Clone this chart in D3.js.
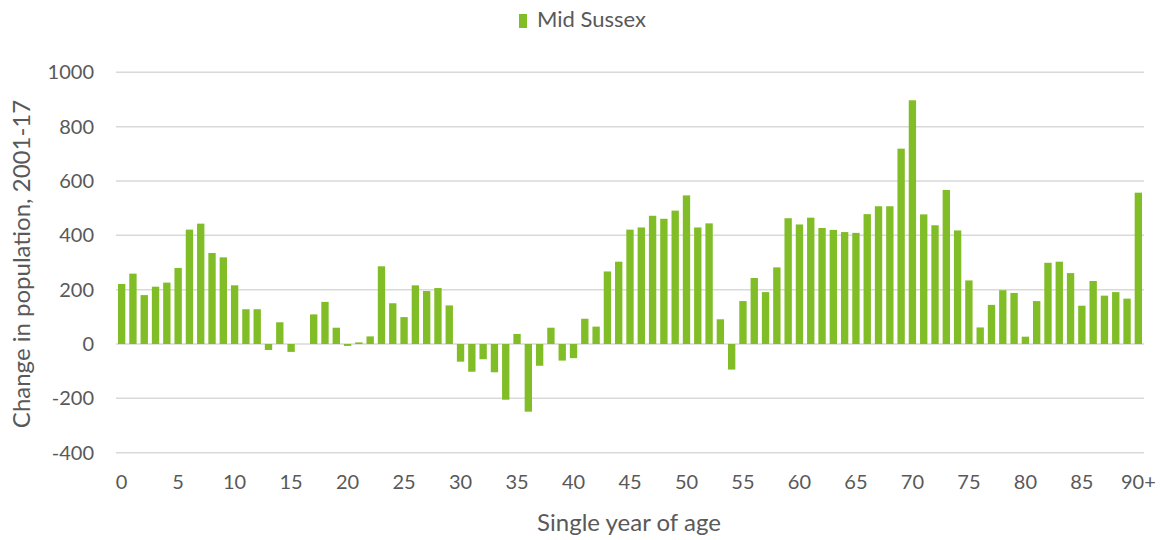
<!DOCTYPE html>
<html>
<head>
<meta charset="utf-8">
<script src="https://cdn.jsdelivr.net/npm/d3@7"></script>
<style>
  html, body { margin: 0; padding: 0; background: #fff; }
  svg { display: block; }
  text { font-family: Lato, "Open Sans", sans-serif; fill: #595959; }
</style>
</head>
<body>
<svg id="chart" width="1162" height="540"></svg>
<script>
const ages = d3.range(0, 91).map(a => a === 90 ? "90+" : String(a));
const values = [
  221, 259, 180, 211, 226, 280, 421, 443, 335, 319,
  216, 128, 128, -22, 80, -29, 0, 109, 155, 60,
  -7, 6, 28, 286, 150, 99, 216, 195, 206, 142,
  -65, -102, -56, -104, -205, 37, -249, -80, 60, -61,
  -52, 93, 64, 267, 303, 421, 429, 472, 461, 491,
  547, 429, 444, 91, -94, 158, 243, 191, 282, 463,
  440, 465, 427, 420, 412, 409, 478, 507, 507, 719,
  897, 477, 437, 567, 418, 234, 61, 144, 198, 188,
  27, 158, 299, 303, 261, 141, 232, 178, 191, 167,
  557
];
const yTicks = [-400, -200, 0, 200, 400, 600, 800, 1000];
const xTickLabels = ["0","5","10","15","20","25","30","35","40","45","50","55","60","65","70","75","80","85","90+"];
const seriesName = "Mid Sussex";
const barColor = "#80bd26";

const svg = d3.select("#chart");
const plotLeft = 116, plotRight = 1144, plotTop = 72.3, plotBottom = 452.7;

const x = d3.scaleBand().domain(ages).range([plotLeft, plotRight]).paddingInner(0.35).paddingOuter(0.175);
const y = d3.scaleLinear().domain([-400, 1000]).range([plotBottom, plotTop]);

// gridlines
svg.append("g").selectAll("line").data(yTicks).join("line")
  .attr("x1", plotLeft).attr("x2", plotRight)
  .attr("y1", d => y(d)).attr("y2", d => y(d))
  .attr("stroke", "#d9d9d9").attr("stroke-width", 1.5);

// y axis labels
const yAxis = d3.axisLeft(y).tickValues(yTicks).tickSize(0).tickPadding(0).tickFormat(d => String(d));
const gy = svg.append("g").attr("transform", `translate(${plotLeft - 22},0)`).call(yAxis);
gy.select(".domain").remove();
gy.selectAll("text").style("font-size", "20px").attr("fill", "#595959").style("font-family", "Lato, 'Open Sans', sans-serif");

// bars
svg.append("g").selectAll("rect").data(values).join("rect")
  .attr("x", (d, i) => x(ages[i]))
  .attr("width", x.bandwidth())
  .attr("y", d => y(Math.max(0, d)))
  .attr("height", d => Math.abs(y(d) - y(0)))
  .attr("fill", barColor);

// x axis labels
const xAxis = d3.axisBottom(x).tickValues(xTickLabels).tickSize(0).tickPadding(0);
const gx = svg.append("g").attr("transform", `translate(0,${plotBottom + 22})`).call(xAxis);
gx.select(".domain").remove();
gx.selectAll("text").style("font-size", "20px").attr("fill", "#595959").style("font-family", "Lato, 'Open Sans', sans-serif");

// axis titles
svg.append("text")
  .attr("x", 629).attr("y", 531)
  .attr("text-anchor", "middle")
  .style("font-size", "24px")
  .text("Single year of age");

svg.append("text")
  .attr("transform", "translate(30,264) rotate(-90)")
  .attr("text-anchor", "middle")
  .style("font-size", "24px")
  .text("Change in population, 2001-17");

// legend
svg.append("rect").attr("x", 519).attr("y", 14).attr("width", 8).attr("height", 14).attr("fill", barColor);
svg.append("text").attr("x", 537).attr("y", 27).style("font-size", "22px").text(seriesName);
</script>
</body>
</html>
